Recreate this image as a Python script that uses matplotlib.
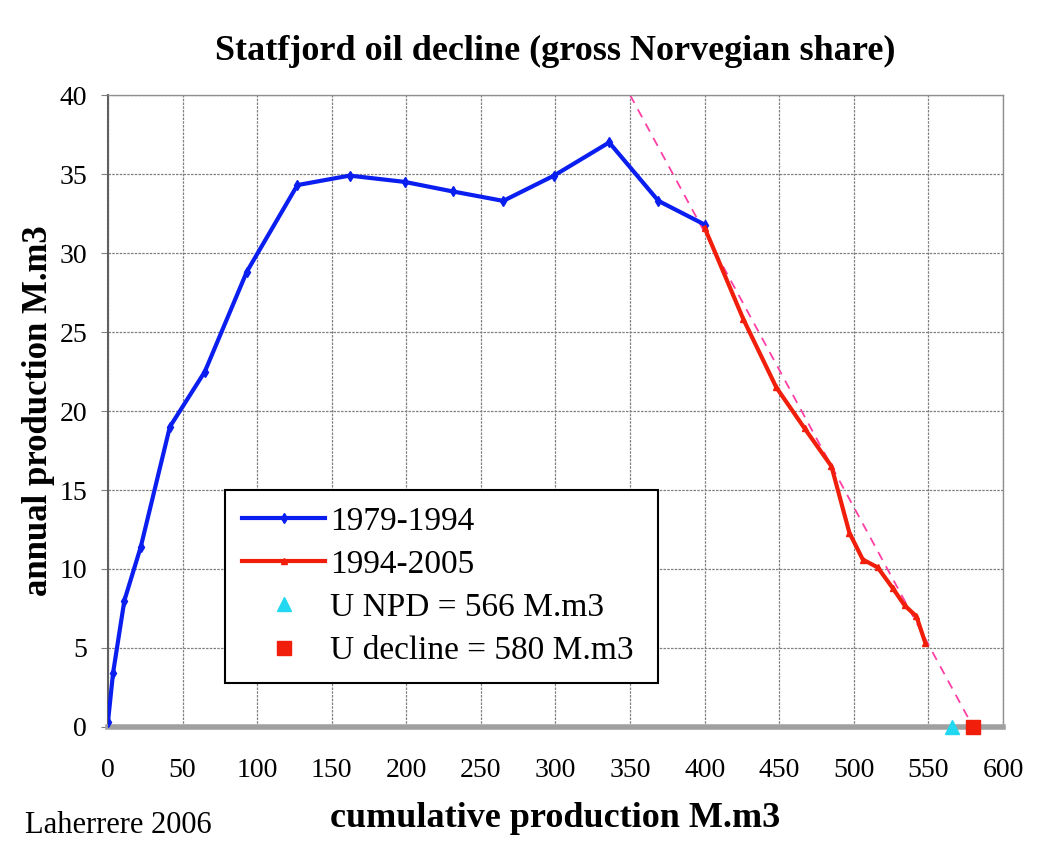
import matplotlib.pyplot as plt

# --- data ---
cum_79_94 = [0, 3.4, 11, 22, 41.5, 65, 93, 127, 162, 199, 231, 265, 299, 336, 369, 400]
ann_79_94 = [0.3, 3.4, 8.0, 11.4, 19.0, 22.5, 28.8, 34.3, 34.9, 34.5, 33.9, 33.3, 34.9, 37.0, 33.3, 31.8]

cum_94_05 = [400, 426, 448, 467, 485, 497, 506, 516, 526, 534, 542, 548]
ann_94_05 = [31.6, 25.8, 21.5, 18.9, 16.5, 12.3, 10.6, 10.1, 8.8, 7.7, 7.0, 5.3]

trend_x = [350, 580]
trend_y = [40, 0]

u_npd = 566
u_decline = 580

plt.rcParams['font.family'] = ['Liberation Serif', 'DejaVu Serif']

fig = plt.figure(figsize=(10.45, 8.47), dpi=100)
ax = fig.add_axes([0.1033, 0.1417, 0.8565, 0.7461])

ax.plot(trend_x, trend_y, color='#ff3fa6', lw=1.3, ls=(0, (5, 4)), zorder=2)
ax.plot(cum_79_94, ann_79_94, color='#0a1ef0', lw=3, marker='d', ms=5,
        label='1979-1994', zorder=3)
ax.plot(cum_94_05, ann_94_05, color='#f01e0a', lw=3, marker='^', ms=5,
        label='1994-2005', zorder=4)
ax.plot([u_npd], [0], ls='none', marker='^', ms=10, color='#22d8f0',
        label='U NPD = 566 M.m3', clip_on=False, zorder=5)
ax.plot([u_decline], [0], ls='none', marker='s', ms=10, color='#f01e0a',
        label='U decline = 580 M.m3', clip_on=False, zorder=5)

ax.set_xlim(0, 600)
ax.set_ylim(0, 40)
ax.set_xticks(range(0, 601, 50))
ax.set_yticks(range(0, 41, 5))
ax.grid(True, color='#808080', lw=0.9, ls=(0, (2, 1)))
ax.set_axisbelow(True)
ax.tick_params(axis='x', length=0, pad=22, labelsize=20)
ax.tick_params(axis='y', length=5, direction='out', color='#808080', pad=10, labelsize=20)
for side in ('top', 'right'):
    ax.spines[side].set_color('#909090')
    ax.spines[side].set_linewidth(1)
ax.spines['left'].set_color('#606060')
ax.spines['left'].set_linewidth(1.5)
ax.spines['bottom'].set_color('#a0a0a0')
ax.spines['bottom'].set_linewidth(4)

ax.set_title('Statfjord oil decline (gross Norvegian share)', fontsize=26,
             fontweight='bold', pad=25)
ax.set_xlabel('cumulative production M.m3', fontsize=26, fontweight='bold', labelpad=14)
ax.set_ylabel('annual production M.m3', fontsize=25, fontweight='bold', labelpad=3)
fig.text(0.024, 0.017, 'Laherrere 2006', fontsize=22)

leg = ax.legend(loc='lower left', bbox_to_anchor=(0.131, 0.0696, 0.483, 0.30),
                mode='expand', borderaxespad=0, fontsize=24, frameon=True,
                fancybox=False, edgecolor='black', borderpad=0.5,
                labelspacing=0.38, handlelength=2.5, handletextpad=0.15,
                framealpha=1)
leg.get_frame().set_linewidth(1.5)

fig.savefig('out.png', dpi=100)
